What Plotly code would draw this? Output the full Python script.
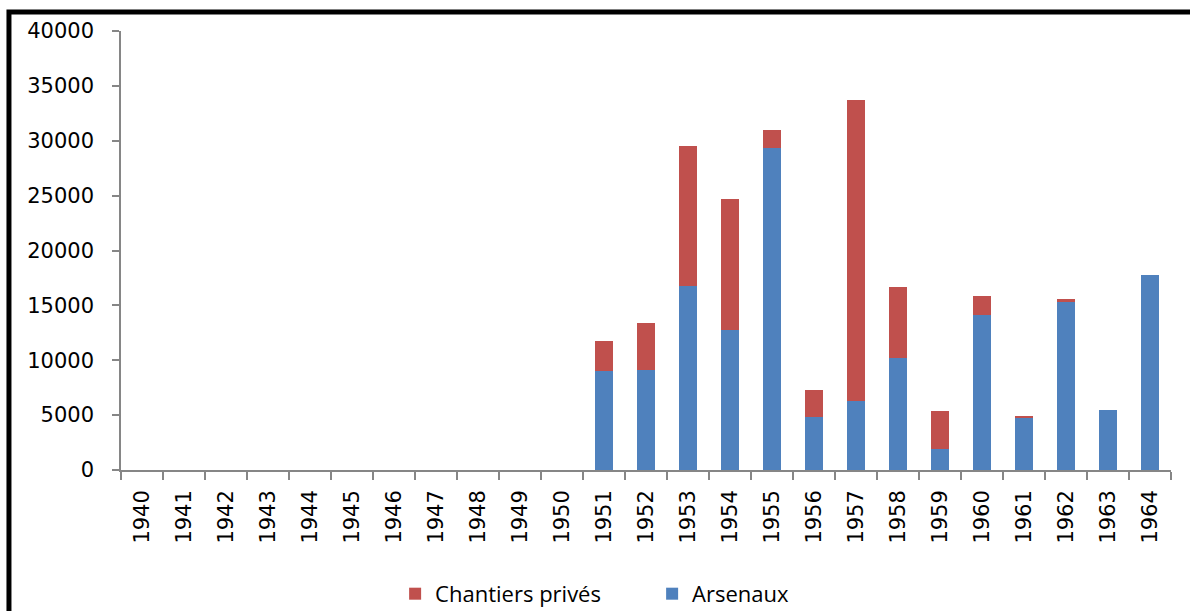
import plotly.graph_objects as go

years = [str(y) for y in range(1940, 1965)]

# Arsenaux (bottom segment of each stacked bar)
arsenaux = [0, 0, 0, 0, 0, 0, 0, 0, 0, 0, 0,
            9000, 9100, 16750, 12750, 29300, 4850, 6250, 10250, 1900,
            14100, 4800, 15300, 5450, 17750]

# Chantiers privés (stacked on top)
chantiers = [0, 0, 0, 0, 0, 0, 0, 0, 0, 0, 0,
             2750, 4300, 12800, 11950, 1700, 2450, 27450, 6400, 3500,
             1800, 150, 300, 0, 0]

BLUE = "#4F81BD"
RED = "#C0504D"
AXIS = "#868686"

fig = go.Figure()
fig.add_trace(go.Bar(x=years, y=arsenaux, name="Arsenaux",
                     marker=dict(color=BLUE, line=dict(width=0))))
fig.add_trace(go.Bar(x=years, y=chantiers, name="Chantiers privés",
                     marker=dict(color=RED, line=dict(width=0))))

fig.update_layout(
    width=1190, height=611,
    margin=dict(l=121, r=19, t=31, b=141, autoexpand=False),
    barmode="stack", bargap=0.59,
    paper_bgcolor="white", plot_bgcolor="white",
    font=dict(family="DejaVu Sans", size=20, color="black"),
    showlegend=True,
    legend=dict(orientation="h", traceorder="reversed",
                x=0.548, xanchor="center", xref="container",
                y=0.028, yanchor="middle", yref="container",
                font=dict(family="Open Sans", size=22),
                entrywidth=212, itemwidth=30),
    xaxis=dict(type="category", showline=True, linecolor=AXIS, linewidth=1.5,
               ticks="outside", tickson="boundaries", ticklen=8, tickcolor=AXIS,
               tickwidth=1.5, tickangle=-90, showgrid=False,
               ticklabelstandoff=10,
               tickfont=dict(family="DejaVu Sans", size=21, color="black")),
    yaxis=dict(range=[0, 40000], dtick=5000, tickformat="d", showline=True,
               linecolor=AXIS, linewidth=1.5, ticks="outside", ticklen=7,
               tickcolor=AXIS, tickwidth=1.5, showgrid=False, zeroline=False,
               ticklabelstandoff=14,
               tickfont=dict(family="DejaVu Sans", size=21, color="black")),
)

# Thick frame around the chart (its right and bottom edges fall outside the page)
fig.add_shape(type="rect", xref="paper", yref="paper",
              x0=-0.1067, x1=1.6, y0=-1.0, y1=1.0433,
              line=dict(color="black", width=5), fillcolor="rgba(0,0,0,0)",
              layer="above")

fig.write_html("out.html")
